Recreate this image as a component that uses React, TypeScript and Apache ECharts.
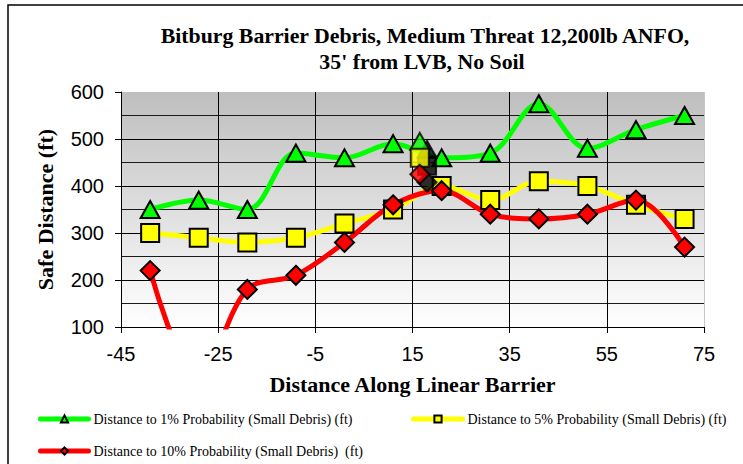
import React, { useEffect, useRef } from "react";
import * as echarts from "echarts";

const xValues = [-39, -29, -19, -9, 1, 11, 21, 31, 41, 51, 61, 71];
const prob1 = [350, 370, 350, 470, 460, 490, 460, 470, 575, 480, 520, 550];
const prob5 = [300, 290, 280, 290, 320, 350, 400, 370, 410, 400, 360, 330];
const prob10 = [220, -10, 180, 210, 280, 360, 390, 340, 330, 340, 370, 270];

// isolated marker points near the barrier centre
const centreX = 16.5;
const centreVals = [495, 460, 425]; // 1%, 5%, 10%
const darkX = 18;
const darkVals = [478, 443, 408];

const yTicks = [100, 200, 300, 400, 500, 600];
const xTicks = [-45, -25, -5, 15, 35, 55, 75];

const names = [
  "Distance to 1% Probability (Small Debris) (ft)",
  "Distance to 5% Probability (Small Debris) (ft)",
  "Distance to 10% Probability (Small Debris)  (ft)",
];
const colors = ["#00ff00", "#ffff00", "#ff0000"];
const symbols = ["triangle", "rect", "diamond"];
const symbolSizes: any[] = [[19, 17], 18, 19];

export default function App() {
  const ref = useRef<HTMLDivElement>(null);
  useEffect(() => {
    if (!ref.current) return;
    const chart = echarts.init(ref.current, undefined, { renderer: "svg" });
    const lines = [prob1, prob5, prob10];
    const lineSeries = lines.map((vals, i) => ({
      name: names[i],
      type: "line",
      smooth: 0.35,
      data: xValues.map((x, k) => [x, vals[k]]),
      symbol: symbols[i],
      symbolSize: symbolSizes[i],
      lineStyle: { color: colors[i], width: 5 },
      itemStyle: { color: colors[i], borderColor: "#000", borderWidth: 2 },
      z: 3,
      clip: true,
    }));
    const darkSeries = darkVals.map((v, i) => ({
      name: "dark" + i,
      type: "scatter",
      data: [[darkX, v]],
      symbol: symbols[i],
      symbolSize: symbolSizes[i],
      itemStyle: { color: "#000", borderColor: "#000", borderWidth: 2 },
      z: 4,
    }));
    const centreSeries = centreVals.map((v, i) => ({
      name: "centre" + i,
      type: "scatter",
      data: [[centreX, v]],
      symbol: symbols[i],
      symbolSize: symbolSizes[i],
      itemStyle: { color: colors[i], borderColor: "#000", borderWidth: 2 },
      z: 5,
    }));
    const legendBase = {
      orient: "horizontal",
      padding: 0,
      itemHeight: 9,
      textStyle: {
        fontFamily: "Liberation Serif",
        fontSize: 14,
        color: "#000",
      },
      lineStyle: { width: 5, cap: "round" },
      itemStyle: { borderColor: "#000", borderWidth: 2 },
    };
    chart.setOption({
      animation: false,
      backgroundColor: "#fff",
      graphic: [
        {
          type: "rect",
          shape: { x: 8, y: 5, width: 800, height: 600 },
          style: { fill: "none", stroke: "#000", lineWidth: 1.5 },
          silent: true,
        },
        {
          type: "text",
          x: 425,
          y: 36,
          style: {
            text: "Bitburg Barrier Debris, Medium Threat 12,200lb ANFO,",
            font: "bold 21.8px 'Liberation Serif'",
            fill: "#000",
            textAlign: "center",
            textVerticalAlign: "middle",
          },
        },
        {
          type: "text",
          x: 422,
          y: 62,
          style: {
            text: "35' from LVB, No Soil",
            font: "bold 21.8px 'Liberation Serif'",
            fill: "#000",
            textAlign: "center",
            textVerticalAlign: "middle",
          },
        },
      ],
      legend: [
        { ...legendBase, data: [names[0]], left: 38, top: 412, itemWidth: 48 },
        { ...legendBase, data: [names[1]], left: 411, top: 412, itemWidth: 49 },
        { ...legendBase, data: [names[2]], left: 38, top: 444, itemWidth: 48 },
      ],
      grid: {
        left: 121,
        right: 39,
        top: 92,
        bottom: 137,
        show: true,
        borderWidth: 0,
        backgroundColor: new echarts.graphic.LinearGradient(0, 0, 0, 1, [
          { offset: 0, color: "#bebebe" },
          { offset: 1, color: "#ffffff" },
        ]),
      },
      xAxis: {
        type: "value",
        min: xTicks[0],
        max: xTicks[xTicks.length - 1],
        interval: 20,
        name: "Distance Along Linear Barrier",
        nameLocation: "middle",
        nameGap: 46,
        nameTextStyle: {
          fontFamily: "Liberation Serif",
          fontWeight: "bold",
          fontSize: 22,
          color: "#000",
          verticalAlign: "top",
        },
        axisLine: { show: true, onZero: false, lineStyle: { color: "#000", width: 1 } },
        axisTick: { show: true, length: 6, lineStyle: { color: "#000" } },
        axisLabel: {
          fontFamily: "Liberation Sans",
          fontSize: 20,
          color: "#000",
          margin: 17,
        },
        splitLine: {
          show: true,
          lineStyle: {
            color: ["#000", "#000", "#000", "#000", "#000", "#000", "#c8c8c8"],
            width: 1,
          },
        },
      },
      yAxis: {
        type: "value",
        min: yTicks[0],
        max: yTicks[yTicks.length - 1],
        interval: 100,
        name: "Safe Distance (ft)",
        nameLocation: "middle",
        nameGap: 65,
        nameRotate: 90,
        nameTextStyle: {
          fontFamily: "Liberation Serif",
          fontWeight: "bold",
          fontSize: 22,
          color: "#000",
        },
        axisLine: { show: true, onZero: false, lineStyle: { color: "#000", width: 1 } },
        axisTick: { show: true, length: 6, lineStyle: { color: "#000" } },
        axisLabel: {
          fontFamily: "Liberation Sans",
          fontSize: 20,
          color: "#000",
          margin: 17,
        },
        minorTick: { show: false, splitNumber: 2 },
        minorSplitLine: { show: true, lineStyle: { color: "#1a1a1a", width: 1 } },
        splitLine: {
          show: true,
          lineStyle: {
            color: ["#000", "#000", "#000", "#000", "#000", "#c0c0c0"],
            width: 1,
          },
        },
      },
      series: [...lineSeries, ...darkSeries, ...centreSeries],
    });
    return () => chart.dispose();
  }, []);
  return (
    <div
      ref={ref}
      style={{ position: "fixed", left: 0, top: 0, width: 743, height: 464 }}
    />
  );
}
